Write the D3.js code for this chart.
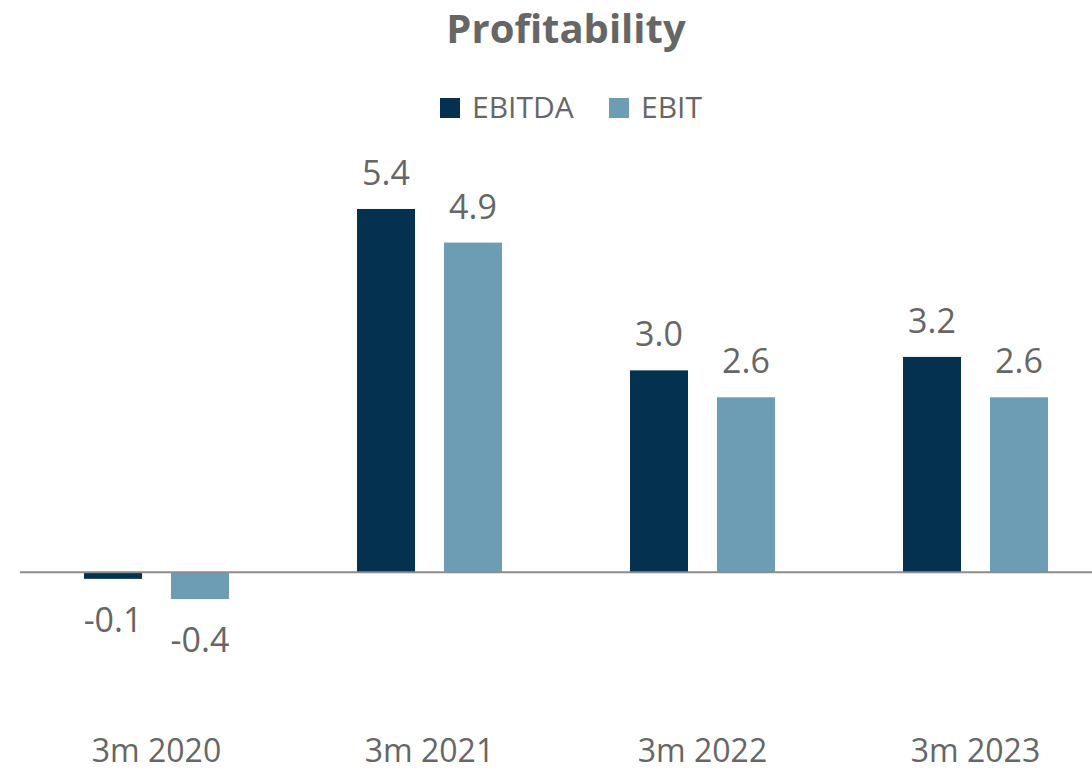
<!DOCTYPE html>
<html>
<head>
<meta charset="utf-8">
<script src="https://cdn.jsdelivr.net/npm/d3@7"></script>
<style>
  body { margin: 0; background: #fff; }
  text { font-family: "Open Sans", sans-serif; fill: #666666; }
</style>
</head>
<body>
<div id="chart"></div>
<script>
// chart data
const categories = ["3m 2020", "3m 2021", "3m 2022", "3m 2023"];
const seriesNames = ["EBITDA", "EBIT"];
const ebitda = [-0.1, 5.4, 3.0, 3.2];
const ebit = [-0.4, 4.9, 2.6, 2.6];

const width = 1092, height = 771;
const colors = { EBITDA: "#03314F", EBIT: "#6D9CB5" };

let rows = categories.map(function(c, i) {
  return { cat: c, EBITDA: ebitda[i], EBIT: ebit[i] };
});

let svg = d3.select("#chart").append("svg")
  .attr("width", width)
  .attr("height", height);

let x0 = d3.scaleBand().domain(categories).range([20, 1112]).padding(0);
let x1 = d3.scaleBand().domain(seriesNames).range([0, x0.bandwidth()])
  .paddingInner(1 / 3).paddingOuter(0.736);
let y = d3.scaleLinear().domain([-1.5, 6.5]).range([673, 135]);

// title
svg.append("text")
  .attr("x", 566).attr("y", 43)
  .attr("text-anchor", "middle")
  .style("font-size", "40px").style("font-weight", "bold")
  .text("Profitability");

// legend
let legendX = { EBITDA: 440, EBIT: 609 };
let legend = svg.selectAll(".legend")
  .data(seriesNames)
  .enter().append("g")
  .attr("class", "legend")
  .attr("transform", function(d) { return "translate(" + legendX[d] + ",98)"; });
legend.append("rect")
  .attr("width", 20).attr("height", 20)
  .style("fill", function(d) { return colors[d]; });
legend.append("text")
  .attr("x", 32).attr("y", 20)
  .style("font-size", "30px")
  .text(function(d) { return d; });

// bars
let groups = svg.selectAll(".cat")
  .data(rows)
  .enter().append("g")
  .attr("class", "cat")
  .attr("transform", function(d) { return "translate(" + x0(d.cat) + ",0)"; });

let bars = groups.selectAll(".bar")
  .data(function(d) { return seriesNames.map(function(s) { return { key: s, value: d[s] }; }); })
  .enter();

bars.append("rect")
  .attr("x", function(d) { return x1(d.key); })
  .attr("width", x1.bandwidth())
  .attr("y", function(d) { return y(Math.max(0, d.value)); })
  .attr("height", function(d) { return Math.abs(y(d.value) - y(0)); })
  .style("fill", function(d) { return colors[d.key]; });

bars.append("text")
  .attr("x", function(d) { return x1(d.key) + x1.bandwidth() / 2; })
  .attr("y", function(d) { return d.value >= 0 ? y(d.value) - 24 : y(d.value) + 53; })
  .attr("text-anchor", "middle")
  .style("font-size", "34px")
  .text(function(d) { return d.value.toFixed(1); });

// zero line
svg.append("line")
  .attr("x1", 20).attr("x2", width)
  .attr("y1", y(0)).attr("y2", y(0))
  .style("stroke", "#8c8c8c").style("stroke-width", 2);

// category labels
svg.selectAll(".xlabel")
  .data(categories)
  .enter().append("text")
  .attr("class", "xlabel")
  .attr("x", function(d) { return x0(d) + x0.bandwidth() / 2; })
  .attr("y", 762)
  .attr("text-anchor", "middle")
  .style("font-size", "32px")
  .text(function(d) { return d; });
</script>
</body>
</html>
